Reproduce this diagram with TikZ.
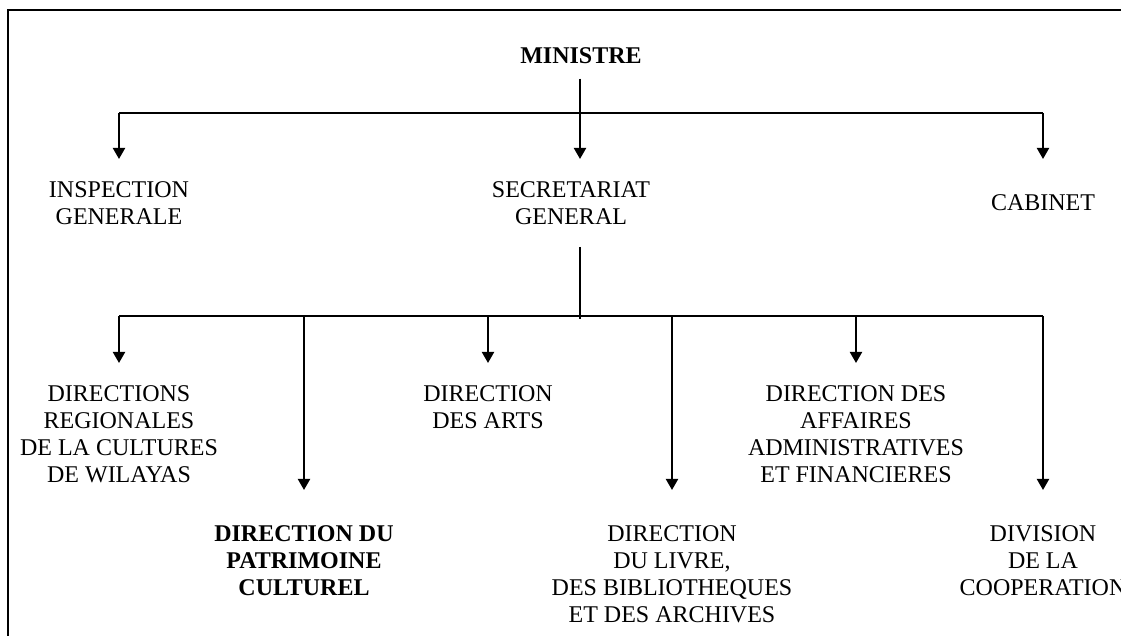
\documentclass[tikz,border=0pt]{standalone}
\usepackage{fontspec}
\setmainfont{Liberation Serif}
\usetikzlibrary{arrows.meta}

\begin{document}
\begin{tikzpicture}[x=0.5pt,y=-0.5pt,
  unit/.style={align=center, inner xsep=0pt, inner ysep=11pt, anchor=north,
    font=\fontsize{12}{13.5}\selectfont},
  far/.style={inner ysep=17.5pt},
  link/.style={line width=1pt},
  arr/.style={line width=1pt, -{Triangle[width=6pt,length=5.5pt]}}]
  \useasboundingbox (0,0) rectangle (1121,636);
  \draw[line width=0.9pt] (8,660) -- (8,10) -- (1140,10);

  % top level
  \node[unit, anchor=base, inner ysep=7pt, font=\fontsize{12}{13.5}\selectfont\bfseries] (min) at (581,64) {MINISTRE};
  \coordinate (top) at (580,113);
  \node[unit] (insp) at (119,159) {INSPECTION\\GENERALE};
  \node[unit] (sg) at (571,159) {SECRETARIAT\\GENERAL};
  \node[unit, far] (cab) at (1043,159) {CABINET};

  \draw[link] (min.south -| top) -- (top);
  \draw[link] (top -| insp.north) -- (top -| cab.north);
  \draw[arr] (top -| insp.north) -- (insp.north);
  \draw[arr] (top) -- (top |- sg.north);
  \draw[arr] (top -| cab.north) -- (cab.north);

  % second level
  \coordinate (mid) at (580,316);
  \node[unit] (dr) at (119,363) {DIRECTIONS\\REGIONALES\\DE LA CULTURES\\DE WILAYAS};
  \node[unit, far, font=\fontsize{12}{13.5}\selectfont\bfseries] (dp) at (304,490) {DIRECTION DU\\PATRIMOINE\\CULTUREL};
  \node[unit] (da) at (488,363) {DIRECTION\\DES ARTS};
  \node[unit, far] (dl) at (672,490) {DIRECTION\\DU LIVRE,\\DES BIBLIOTHEQUES\\ET DES ARCHIVES};
  \node[unit] (daaf) at (856,363) {DIRECTION DES\\AFFAIRES\\ADMINISTRATIVES\\ET FINANCIERES};
  \node[unit, far] (dc) at (1043,490) {DIVISION\\DE LA\\COOPERATION};

  \draw[link] (top |- sg.south) -- ([yshift=-1.5pt]mid);
  \draw[link] (mid -| dr.north) -- (mid -| dc.north);
  \draw[arr] (mid -| dr.north) -- (dr.north);
  \draw[arr] (mid -| dp.north) -- (dp.north);
  \draw[arr] (mid -| da.north) -- (da.north);
  \draw[arr] (mid -| dl.north) -- (dl.north);
  \draw[arr] (mid -| daaf.north) -- (daaf.north);
  \draw[arr] (mid -| dc.north) -- (dc.north);
\end{tikzpicture}
\end{document}
